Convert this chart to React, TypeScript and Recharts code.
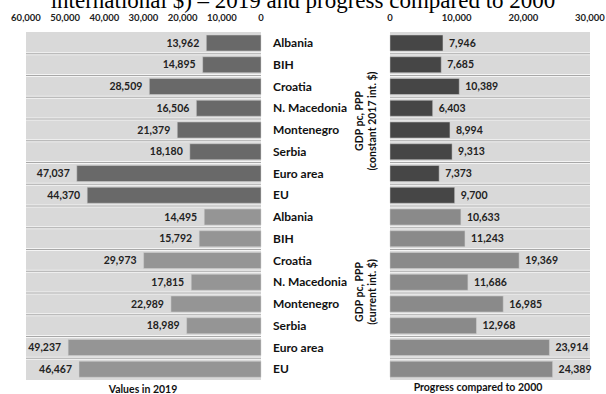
import React from 'react'
import {
  BarChart,
  Bar,
  XAxis,
  YAxis,
  CartesianGrid,
  Cell,
  LabelList,
} from 'recharts'

const categories = [
  'Albania', 'BIH', 'Croatia', 'N. Macedonia', 'Montenegro', 'Serbia', 'Euro area', 'EU',
  'Albania', 'BIH', 'Croatia', 'N. Macedonia', 'Montenegro', 'Serbia', 'Euro area', 'EU',
]

// first 8: constant 2017 int. $, last 8: current int. $
const values2019 = [
  13962, 14895, 28509, 16506, 21379, 18180, 47037, 44370,
  14495, 15792, 29973, 17815, 22989, 18989, 49237, 46467,
]

const progress2000 = [
  7946, 7685, 10389, 6403, 8994, 9313, 7373, 9700,
  10633, 11243, 19369, 11686, 16985, 12968, 23914, 24389,
]

const leftTicks = [0, 10000, 20000, 30000, 40000, 50000, 60000]
const rightTicks = [0, 10000, 20000, 30000]

const LEFT_DARK = '#696969'
const LEFT_LIGHT = '#959595'
const RIGHT_DARK = '#464646'
const RIGHT_LIGHT = '#8a8a8a'

const FONT = 'Lato, "Open Sans", sans-serif'

const rows = categories.map((name, i) => ({
  id: `r${i}`,
  name,
  value: values2019[i],
  progress: progress2000[i],
}))

const fmt = (v: number) => Number(v).toLocaleString('en-US')

const rowLines = ({ offset }: any) => {
  const n = rows.length
  const step = offset.height / n
  const out: number[] = []
  for (let i = 1; i < n; i++) out.push(offset.top + step * i)
  return out
}

const LeftValueLabel = (props: any) => {
  const { x, y, width, height, value } = props
  const edge = Math.min(x, x + width)
  return (
    <text
      x={edge - 7}
      y={y + height / 2}
      dy="0.35em"
      textAnchor="end"
      fontSize={10.5}
      fontWeight={700}
      fontFamily={FONT}
      fill="#222"
    >
      {fmt(value)}
    </text>
  )
}

const RightValueLabel = (props: any) => {
  const { x, y, width, height, value } = props
  const edge = Math.max(x, x + width)
  return (
    <text
      x={edge + 6}
      y={y + height / 2}
      dy="0.35em"
      textAnchor="start"
      fontSize={10.5}
      fontWeight={700}
      fontFamily={FONT}
      fill="#222"
    >
      {fmt(value)}
    </text>
  )
}

const tickStyle = { fontSize: 9.5, fontFamily: FONT, fontWeight: 700, fill: '#222' }

export default function App() {
  return (
    <div
      style={{
        position: 'fixed',
        left: 0,
        top: 0,
        width: 606,
        height: 394,
        background: '#fff',
        overflow: 'hidden',
      }}
    >
      <div style={{ position: 'absolute', left: 0, top: 0 }}>
        <BarChart
          width={390}
          height={394}
          data={rows}
          layout="vertical"
          margin={{ top: 12, right: 0, bottom: 14, left: 26 }}
          barSize={16}
        >
          <CartesianGrid
            vertical={false}
            fill="#d9d9d9"
            fillOpacity={1}
            stroke="#f4f4f4"
            strokeWidth={3}
            horizontalCoordinatesGenerator={rowLines}
          />
          <CartesianGrid
            vertical={false}
            stroke="#a8a8a8"
            strokeWidth={1}
            horizontalCoordinatesGenerator={rowLines}
          />
          <XAxis
            type="number"
            orientation="top"
            reversed
            domain={[0, 60000]}
            ticks={leftTicks}
            tickFormatter={fmt}
            axisLine={false}
            tickLine={false}
            height={20}
            tick={{ ...tickStyle, dy: -3 }}
            interval={0}
          />
          <YAxis
            type="category"
            dataKey="id"
            orientation="right"
            width={129}
            axisLine={false}
            tickLine={false}
            tickMargin={6}
            interval={0}
            tickFormatter={(id: string) => rows.find((r) => r.id === id)?.name ?? ''}
            tick={{ fontSize: 12, fontFamily: FONT, fontWeight: 700, fill: '#111', textAnchor: 'start' }}
          />
          <Bar dataKey="value" isAnimationActive={false} stroke="#d0d0d0" strokeWidth={0.5}>
            {rows.map((r, i) => (
              <Cell key={r.id} fill={i < 8 ? LEFT_DARK : LEFT_LIGHT} />
            ))}
            <LabelList dataKey="value" content={LeftValueLabel} />
          </Bar>
        </BarChart>
      </div>

      <div style={{ position: 'absolute', left: 360, top: 0 }}>
        <BarChart
          width={246}
          height={394}
          data={rows}
          layout="vertical"
          margin={{ top: 12, right: 16, bottom: 14, left: 30 }}
          barSize={16}
        >
          <CartesianGrid
            vertical={false}
            fill="#d9d9d9"
            fillOpacity={1}
            stroke="#f4f4f4"
            strokeWidth={3}
            horizontalCoordinatesGenerator={rowLines}
          />
          <CartesianGrid
            vertical={false}
            stroke="#a8a8a8"
            strokeWidth={1}
            horizontalCoordinatesGenerator={rowLines}
          />
          <XAxis
            type="number"
            orientation="top"
            domain={[0, 30000]}
            ticks={rightTicks}
            tickFormatter={fmt}
            axisLine={false}
            tickLine={false}
            height={20}
            tick={{ ...tickStyle, dy: -3 }}
            interval={0}
          />
          <YAxis type="category" dataKey="id" hide />
          <Bar dataKey="progress" isAnimationActive={false} stroke="#d0d0d0" strokeWidth={0.5}>
            {rows.map((r, i) => (
              <Cell key={r.id} fill={i < 8 ? RIGHT_DARK : RIGHT_LIGHT} />
            ))}
            <LabelList dataKey="progress" content={RightValueLabel} />
          </Bar>
        </BarChart>
      </div>

      <svg
        width={606}
        height={394}
        style={{ position: 'absolute', left: 0, top: 0, pointerEvents: 'none' }}
      >
        <text
          x={303}
          y={8}
          textAnchor="middle"
          fontSize={23}
          fontFamily='"Liberation Serif", "DejaVu Serif", serif'
          fill="#000"
        >
          international $) – 2019 and progress compared to 2000
        </text>
        <g fontFamily={FONT} fontWeight={700} fontSize={10.5} fill="#111">
          <text transform="translate(363,121) rotate(-90)" textAnchor="middle">
            GDP pc, PPP
          </text>
          <text transform="translate(376,121) rotate(-90)" textAnchor="middle">
            (constant 2017 int. $)
          </text>
          <text transform="translate(363,292) rotate(-90)" textAnchor="middle">
            GDP pc, PPP
          </text>
          <text transform="translate(376,292) rotate(-90)" textAnchor="middle">
            (current int. $)
          </text>
          <text x={143} y={393} textAnchor="middle">
            Values in 2019
          </text>
          <text x={478} y={391} textAnchor="middle">
            Progress compared to 2000
          </text>
        </g>
      </svg>
    </div>
  )
}
